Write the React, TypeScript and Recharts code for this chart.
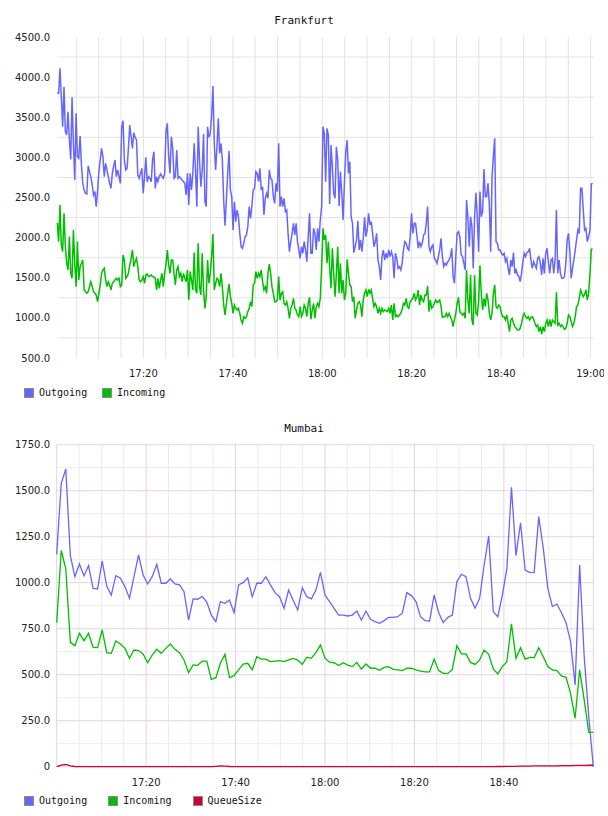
import React from 'react';
import { LineChart, Line, XAxis, YAxis, CartesianGrid, Legend } from 'recharts';

// ---- Frankfurt: minutes after 17:00, one sample every 18 s ----
const frankfurtStart = 0.75;
const frankfurtStep = 0.3;

const frankfurtOutgoing = [
  3810, 3798, 4109, 3756, 3382, 3881, 3320, 3279, 3569, 3216,
  2975, 3748, 3175, 2718, 3549, 3009, 2988, 3266, 2900, 2676,
  2593, 2552, 2543, 2892, 2822, 2760, 2656, 2531, 2573, 2386,
  2573, 2822, 2967, 3112, 3009, 2760, 2926, 2843, 2760, 2676,
  2614, 2801, 2892, 2967, 2760, 2843, 2760, 2676, 3382, 3457,
  2967, 2843, 2863, 3112, 3403, 3258, 3112, 3308, 3250, 3216,
  2780, 2739, 2801, 2863, 2552, 2760, 3000, 2697, 2760, 2739,
  2697, 2967, 3071, 2614, 2760, 2697, 2760, 2793, 2760, 2739,
  2801, 3320, 3424, 3009, 2801, 3258, 3112, 2739, 2760, 3092,
  2739, 2760, 2739, 2718, 2700, 2676, 2531, 2801, 2407,
  2801, 2593, 2801, 3175, 2843, 2386, 3382, 2967, 2635, 2843,
  3291, 2448, 2386, 3382, 3250, 3299, 3507, 3889, 3175, 2843,
  3133, 3486, 3050, 3175, 2967, 2469, 2149, 2469, 2801, 3083,
  2593, 2510, 2095, 2448, 2199, 2344, 2261, 2053, 1887, 1867,
  1929, 2012, 2033, 2137, 2386, 2240, 2386, 2593, 2614,
  2822, 2801, 2697, 2863, 2593, 2635, 2282, 2490, 2552, 2490,
  2843, 2739, 2718, 2510, 2427, 2676, 2573, 3175, 2386, 2510,
  2386, 2490, 2323, 2344, 2053, 1825, 1950, 2053, 2178, 2033,
  2178, 1950, 1846, 1742, 1887, 1805, 1950, 1846, 1701, 2012,
  2303, 1805, 1805, 2116, 2053, 1846, 2116, 1950, 2220, 2386,
  3382, 3299,
  2697, 3362, 3279, 2419, 3154, 2884, 2552, 2490, 3133,
  2967, 2394, 2822, 2552, 2220, 2697, 3071, 3216, 2801, 2946,
  2261, 2178, 1813, 1887, 1971, 2211, 1846, 1971, 1825, 1991,
  2253, 2012, 2095, 2303, 2157, 2199, 2053, 1887, 1950, 2053,
  1721, 1638, 1472, 1763, 1846, 1721, 1805, 1742, 1846, 1763,
  1825, 1763, 1493, 1805, 1742, 1617, 1638, 1597, 1680,
  1846, 1950, 1929, 1867, 1846, 2012, 2303, 2053, 2178, 2178,
  2033, 1867, 1950, 1887, 1929, 2033, 2053, 2178, 2386, 1887,
  1825, 1887, 1908, 1742, 1721, 1680, 1763, 1846, 1991, 1763,
  1638, 1680, 1659, 1701, 1721, 1763, 1867, 1514, 1431, 1763,
  2053, 2074,
  2012, 1784, 1763, 1680, 1597, 2469, 2261, 1887, 2261, 2137,
  1617, 2261, 2560, 2261, 1825, 2573, 2261, 2323, 2855, 2510,
  2510, 2676, 2407, 1825, 2760, 3009, 3237, 1950, 1929, 1846,
  1846, 1805, 1784, 1805, 1701, 1742, 1617, 1534, 1721, 1638,
  1813, 1555, 1597, 1534, 1514, 1451, 1555, 1701, 1805, 1763,
  1813, 1825, 1867, 1721, 1617, 1701, 1659, 1617, 1742, 1763,
  1680, 1534, 1742, 1555, 1805, 1867, 1701, 1555, 1721, 1742,
  1555, 1721, 2344, 1555, 1721, 1555, 1493, 1493, 1514,
  1680, 1971, 2053, 1825, 1493, 1617, 1721, 1846, 1971, 2095,
  2053, 2614, 2614, 2344, 2095, 2116, 1950, 2012, 2095, 2668,
  2676,
];

const frankfurtIncoming = [
  2186, 1950, 2407, 1908, 1825, 2303, 1887, 1680, 1597, 2012,
  1555, 1493, 2095, 1680, 1389, 1950, 1472, 1638, 1680, 1721,
  1348, 1327, 1306, 1327, 1389, 1451, 1389, 1327, 1306, 1285,
  1202, 1306, 1410, 1555, 1597, 1617, 1472, 1389, 1451, 1410,
  1348, 1431, 1451, 1472, 1493, 1472, 1493, 1389, 1410, 1784,
  1721, 1493, 1514, 1555, 1659, 1742, 1846, 1638, 1701, 1742,
  1638, 1472, 1451, 1472, 1514, 1431, 1534, 1547, 1514, 1522,
  1534, 1514, 1514, 1493, 1348, 1493, 1368, 1472, 1555, 1389,
  1555, 1659, 1846, 1659, 1555, 1721, 1721, 1555, 1410, 1597,
  1638, 1514, 1555, 1451, 1555, 1493, 1451, 1597, 1223,
  1576, 1472, 1348, 1813, 1348, 1306, 1929, 1389, 1285, 1805,
  1348, 1119, 1264, 1721, 1431, 1555, 1763, 2045, 1348, 1431,
  1493, 1472, 1389, 1555, 1389, 1161, 1036, 1181, 1306, 1422,
  1264, 1181, 1057, 1161, 1119, 1098, 1119, 1057, 974, 932,
  1015, 995, 1015, 1078, 1119, 1202, 1140, 1410, 1431,
  1576, 1493, 1555, 1514, 1597, 1451, 1348, 1389, 1306, 1555,
  1671, 1555, 1389, 1306, 1202, 1202, 1223, 1514, 1223, 1306,
  1327, 1181, 1161, 1202, 1119, 995, 1119, 1161, 1244, 1119,
  1098, 1036, 1015, 1140, 1015, 1057, 1161, 1119, 1015, 1181,
  1256, 982, 1098, 1181, 995, 1140, 1181, 1140, 1244, 1638,
  2116, 1971,
  2033, 1680, 1950, 1638, 1368, 1867, 1555, 1264, 1555, 1887,
  1306, 1680, 1306, 1472, 1223, 1306, 1730, 1555, 1410, 1389,
  1202, 1264, 995, 1098, 1181, 1202, 1161, 1015, 1223, 1306,
  1348, 1264, 1356, 1306, 1348, 1244, 1140, 1181, 1140, 1057,
  1119, 1057, 1119, 1078, 1098, 1086, 1078, 1119, 1057,
  1161, 974, 1181, 1015, 1036, 1015, 1036, 1057, 1107, 1181,
  1161, 1244, 1140, 1119, 1202, 1223, 1244, 1306, 1223, 1264,
  1348, 1161, 1285, 1223, 1202, 1285, 1285, 1397, 1078, 1223,
  1119, 1140, 1181, 1223, 1190, 1202, 1223, 1140, 1007, 1015,
  1015, 1057, 1015, 1057, 1015, 974, 891, 974, 1057, 1181,
  1256,
  1078, 1057, 1036, 1057, 995, 1597, 1223, 1057, 1534, 974,
  911, 1534, 1057, 1036, 1202, 1651, 1306, 1098, 1244, 1140,
  1306, 1223, 1057, 974, 1057, 1306, 1410, 1140, 1119, 1161,
  1140, 1057, 1015, 1015, 974, 1036, 932, 828, 974, 995,
  932, 891, 870, 849, 849, 870, 932, 1015, 1057, 1015,
  995, 1015, 974, 1007, 1015, 982, 932, 891, 911, 828,
  891, 799, 891, 828, 932, 974, 891, 982, 891, 974,
  953, 932, 1318, 911, 932, 891, 911, 891, 857, 870,
  932, 1036, 1015, 953, 891, 932, 1015, 1140, 1161,
  1244, 1348, 1306, 1264, 1294, 1348, 1223, 1306, 1555, 1854,
  1854,
];

const frankfurtValueTicks = [500, 1000, 1500, 2000, 2500, 3000, 3500, 4000, 4500];
const frankfurtGridValues = [750, 1250, 1750, 2250, 2750, 3250, 3750, 4250];
const frankfurtTimeTicks = [20, 40, 60, 80, 100, 120];

// ---- Mumbai: minutes after 17:00, samples spread evenly over two hours ----
const mumbaiSpan = 120;

const mumbaiOutgoing = [
  1154, 1540, 1618, 1147, 1033, 1102, 1037, 1093, 969, 966,
  1118, 982, 933, 1038, 1024, 979, 915, 1033, 1151, 1042,
  993, 1033, 1100, 997, 997, 1020, 993, 988, 951, 797,
  912, 910, 925, 895, 824, 788, 897, 888, 906, 837,
  988, 1000, 1027, 924, 997, 997, 1033, 988, 946, 924,
  861, 960, 905, 852, 973, 924, 912, 960, 1056, 933,
  897, 861, 824, 824, 819, 824, 846, 797, 846, 801,
  788, 779, 794, 812, 812, 815, 834, 946, 930, 897,
  815, 794, 792, 933, 837, 783, 812, 824, 1006, 1046,
  1033, 915, 861, 915, 1096, 1254, 843, 815, 933, 1078,
  1518, 1147, 1326, 1069, 1056, 1055, 1359, 1187, 969, 870,
  884, 837, 783, 680, 444, 1096, 598, 272, 0,
];

const mumbaiIncoming = [
  783, 1175, 1075, 676, 658, 725, 685, 725, 649, 647,
  743, 620, 616, 683, 667, 643, 589, 634, 631, 613,
  565, 607, 638, 616, 643, 667, 638, 620, 580, 511,
  553, 551, 574, 574, 475, 484, 562, 611, 484, 495,
  526, 558, 562, 526, 598, 585, 585, 571, 574, 576,
  571, 580, 589, 580, 556, 595, 589, 620, 661, 590,
  568, 565, 550, 565, 552, 544, 567, 531, 558, 535,
  535, 524, 540, 544, 529, 526, 522, 535, 535, 526,
  520, 515, 515, 585, 522, 507, 507, 529, 658, 613,
  613, 567, 556, 580, 634, 611, 531, 504, 544, 571,
  776, 589, 647, 585, 594, 593, 647, 598, 544, 526,
  522, 493, 486, 399, 263, 526, 362, 187, 187,
];

const mumbaiQueueSize = [
  0, 8, 12, 4, 1, 0, 0, 0, 0, 0,
  0, 0, 0, 0, 0, 0, 0, 0, 0, 0,
  0, 0, 0, 0, 0, 0, 0, 0, 0, 0,
  0, 0, 0, 0, 0, 2, 4, 3, 1, 0,
  0, 0, 0, 0, 0, 0, 0, 0, 0, 0,
  0, 0, 0, 0, 0, 0, 0, 0, 0, 0,
  0, 0, 0, 0, 0, 0, 0, 0, 0, 0,
  0, 0, 0, 0, 0, 0, 0, 0, 0, 0,
  0, 0, 0, 0, 0, 0, 0, 0, 0, 0,
  0, 0, 0, 0, 0, 0, 0, 1, 1, 2,
  2, 2, 3, 3, 3, 4, 4, 4, 5, 5,
  5, 6, 6, 6, 7, 7, 7, 8, 8,
];

const mumbaiValueTicks = [0, 250, 500, 750, 1000, 1250, 1500, 1750];
const mumbaiMinorValues = [125, 375, 625, 875, 1125, 1375, 1625];
const mumbaiTimeTicks = [20, 40, 60, 80, 100];
const mumbaiMajorTimes = [0, 20, 40, 60, 80, 100, 120];
const fiveMinuteMarks = [5, 10, 15, 20, 25, 30, 35, 40, 45, 50, 55, 60, 65, 70, 75, 80, 85, 90, 95, 100, 105, 110, 115, 120];

// legend entries keep the order the series are declared in
const seriesOrder = ['Outgoing', 'Incoming', 'QueueSize'];

// ---- styling ----
const OUT_COLOR = '#6666ff';
const IN_COLOR = '#00bf00';
const QUEUE_COLOR = '#cc0033';
const CHART_W = 604;
const CHART_H = 408;
const TICK_FONT = 'DejaVu Sans, Verdana, sans-serif';
const MONO_FONT = 'DejaVu Sans Mono, monospace';

const frankfurtData = frankfurtOutgoing.map((v, i) => ({
  t: frankfurtStart + i * frankfurtStep,
  outgoing: v,
  incoming: frankfurtIncoming[i],
}));

const mumbaiData = mumbaiOutgoing.map((v, i) => ({
  t: (i * mumbaiSpan) / (mumbaiOutgoing.length - 1),
  outgoing: v,
  incoming: mumbaiIncoming[i],
  queue: mumbaiQueueSize[i],
}));

const clock = (m: number) => {
  const total = 17 * 60 + Math.round(m);
  const h = Math.floor(total / 60);
  const mm = total % 60;
  return `${h}:${mm < 10 ? '0' : ''}${mm}`;
};

const XTick = (props: any) => (
  <text
    x={props.x}
    y={props.y}
    dy={7}
    textAnchor="middle"
    fontFamily={TICK_FONT}
    fontSize={10}
    fill="#222"
  >
    {clock(props.payload.value)}
  </text>
);

const makeYTick = (fmt: (v: number) => string) => (props: any) => (
  <text
    x={props.x}
    y={props.y}
    dy={3.6}
    textAnchor="end"
    fontFamily={TICK_FONT}
    fontSize={10}
    fill="#222"
  >
    {fmt(props.payload.value)}
  </text>
);

const makeLegend = (itemWidth: number) => (props: any) => {
  const items = [...(props.payload || [])].sort(
    (a: any, b: any) => seriesOrder.indexOf(a.value) - seriesOrder.indexOf(b.value)
  );
  return (
    <div style={{ display: 'flex', fontFamily: MONO_FONT, fontSize: 10, color: '#111', lineHeight: '11px' }}>
      {items.map((p: any) => (
        <div key={p.value} style={{ width: itemWidth, display: 'flex', alignItems: 'center' }}>
          <span
            style={{
              display: 'inline-block',
              boxSizing: 'border-box',
              width: 10,
              height: 10,
              background: p.color,
              border: '1px solid #8a8a8a',
              marginRight: 5,
            }}
          />
          <span>{p.value}</span>
        </div>
      ))}
    </div>
  );
};

const Title = ({ text, top }: { text: string; top: number }) => (
  <div
    style={{
      position: 'absolute',
      left: 0,
      top,
      width: 608,
      textAlign: 'center',
      fontFamily: MONO_FONT,
      fontSize: 11,
      lineHeight: '13px',
      color: '#111',
    }}
  >
    {text}
  </div>
);

export default function App() {
  return (
    <div style={{ position: 'absolute', left: 0, top: 0, width: 608, height: 816, background: '#fff' }}>
      <div style={{ position: 'absolute', left: 0, top: 0, width: CHART_W, height: CHART_H, overflow: 'hidden' }}>
        <LineChart
          width={CHART_W}
          height={CHART_H}
          data={frankfurtData}
          margin={{ top: 37, right: 10, bottom: 20, left: 0 }}
        >
          <CartesianGrid
            stroke="#e3e3e3"
            horizontalValues={frankfurtGridValues}
            verticalValues={fiveMinuteMarks}
          />
          <XAxis
            dataKey="t"
            type="number"
            domain={[frankfurtStart, frankfurtStart + 120]}
            ticks={frankfurtTimeTicks}
            axisLine={false}
            tickLine={false}
            tickSize={0}
            tickMargin={12}
            height={30}
            tick={<XTick />}
            interval={0}
          />
          <YAxis
            type="number"
            domain={[500, 4500]}
            ticks={frankfurtValueTicks}
            axisLine={false}
            tickLine={false}
            tickSize={0}
            tickMargin={7.3}
            width={57.3}
            tick={makeYTick((v) => v.toFixed(1))}
            interval={0}
          />
          <Legend
            layout="horizontal"
            verticalAlign="middle"
            align="center"
            content={makeLegend(78)}
            wrapperStyle={{ left: 24, top: 387, width: 400, height: 11 }}
          />
          <Line
            type="linear"
            dataKey="outgoing"
            name="Outgoing"
            stroke={OUT_COLOR}
            strokeWidth={1.5}
            dot={false}
            activeDot={false}
            isAnimationActive={false}
          />
          <Line
            type="linear"
            dataKey="incoming"
            name="Incoming"
            stroke={IN_COLOR}
            strokeWidth={1.5}
            dot={false}
            activeDot={false}
            isAnimationActive={false}
          />
        </LineChart>
      </div>
      <Title text="Frankfurt" top={14} />

      <div style={{ position: 'absolute', left: 0, top: CHART_H, width: CHART_W, height: CHART_H, overflow: 'hidden' }}>
        <LineChart
          width={CHART_W}
          height={CHART_H}
          data={mumbaiData}
          margin={{ top: 36.7, right: 10.7, bottom: 19.3, left: 0 }}
        >
          <CartesianGrid
            stroke="#ececec"
            horizontalValues={mumbaiMinorValues}
            verticalValues={fiveMinuteMarks.filter((m) => m % 20 !== 0)}
          />
          <CartesianGrid
            stroke="#e6d2e6"
            horizontalValues={mumbaiValueTicks}
            verticalValues={mumbaiMajorTimes}
          />
          <XAxis
            dataKey="t"
            type="number"
            domain={[0, mumbaiSpan]}
            ticks={mumbaiTimeTicks}
            axisLine={false}
            tickLine={false}
            tickSize={0}
            tickMargin={12}
            height={30}
            tick={<XTick />}
            interval={0}
          />
          <YAxis
            type="number"
            domain={[0, 1750]}
            ticks={mumbaiValueTicks}
            axisLine={false}
            tickLine={false}
            tickSize={0}
            tickMargin={6.7}
            width={56.7}
            tick={makeYTick((v) => (v === 0 ? '0' : v.toFixed(1)))}
            interval={0}
          />
          <Legend
            layout="horizontal"
            verticalAlign="middle"
            align="center"
            content={makeLegend(84.3)}
            wrapperStyle={{ left: 24, top: 387, width: 400, height: 11 }}
          />
          <Line
            type="linear"
            dataKey="outgoing"
            name="Outgoing"
            stroke={OUT_COLOR}
            strokeWidth={1.3}
            dot={false}
            activeDot={false}
            isAnimationActive={false}
          />
          <Line
            type="linear"
            dataKey="incoming"
            name="Incoming"
            stroke={IN_COLOR}
            strokeWidth={1.3}
            dot={false}
            activeDot={false}
            isAnimationActive={false}
          />
          <Line
            type="linear"
            dataKey="queue"
            name="QueueSize"
            stroke={QUEUE_COLOR}
            strokeWidth={1.3}
            dot={false}
            activeDot={false}
            isAnimationActive={false}
          />
        </LineChart>
      </div>
      <Title text="Mumbai" top={CHART_H + 14} />
    </div>
  );
}
